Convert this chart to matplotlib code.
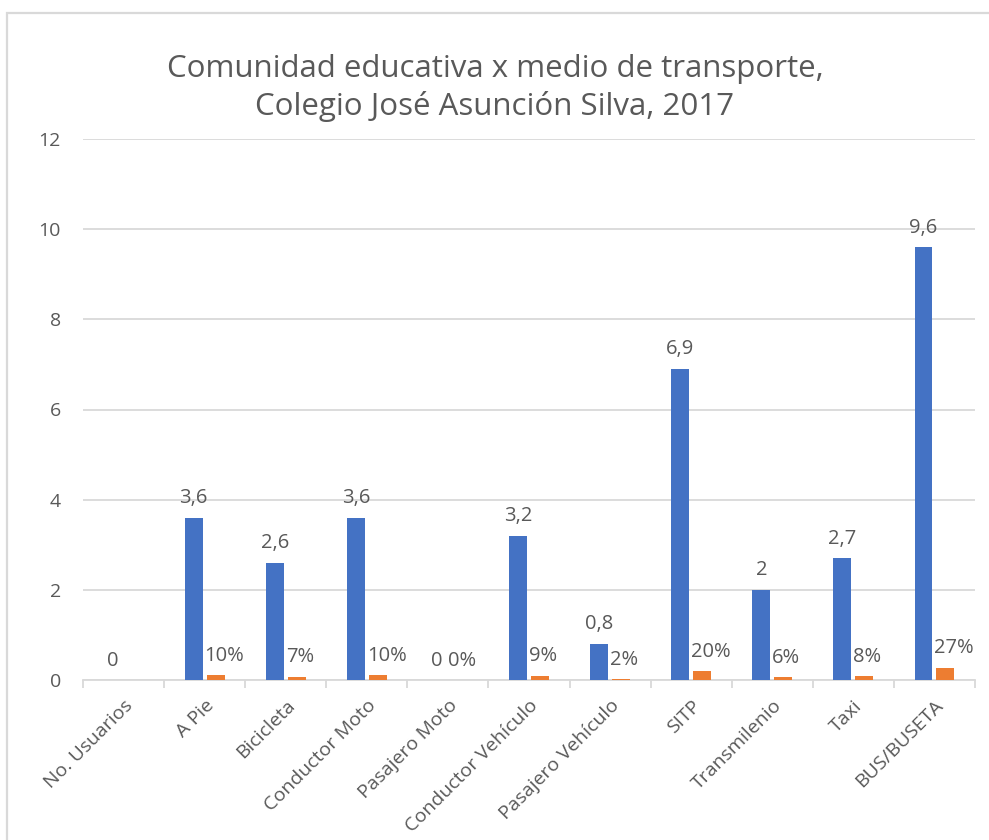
import matplotlib

matplotlib.use("agg")
import matplotlib.pyplot as plt  # noqa: E402
import numpy as np  # noqa: E402
from matplotlib.patches import Rectangle  # noqa: E402

plt.rcParams["font.family"] = ["Open Sans", "DejaVu Sans"]

# medios de transporte y valores
categorias = ["No. Usuarios", "A Pie", "Bicicleta", "Conductor Moto", "Pasajero Moto",
              "Conductor Vehículo", "Pasajero Vehículo", "SITP", "Transmilenio", "Taxi",
              "BUS/BUSETA"]
usuarios = [0, 3.6, 2.6, 3.6, 0, 3.2, 0.8, 6.9, 2, 2.7, 9.6]
porcentaje = [np.nan, 0.10, 0.07, 0.10, 0.0, 0.09, 0.02, 0.20, 0.06, 0.08, 0.27]

AZUL = "#4472C4"
NARANJA = "#ED7D31"
GRIS = "#595959"
REJILLA = "#D9D9D9"

W, H = 989, 840
fig = plt.figure(figsize=(W / 100, H / 100), dpi=100)
ax = fig.add_axes([83 / W, 1 - 680 / H, (975 - 83) / W, (680 - 139) / H])

# borde del área del gráfico
fig.patches.append(Rectangle((7 / W, -0.05), 1.1, 1 - 13 / H + 0.05, transform=fig.transFigure,
                             fill=False, edgecolor=REJILLA, lw=1.6))

x = np.arange(len(categorias))
bw, off = 0.22, 0.135
ax.bar(x - off, usuarios, bw, color=AZUL, zorder=3)
ax.bar(x + off, np.nan_to_num(porcentaje), bw, color=NARANJA, zorder=3)

for xi, v in zip(x, usuarios):
    txt = f"{v:g}".replace(".", ",")
    ax.annotate(txt, (xi - off, v), xytext=(0, 14), textcoords="offset points",
                ha="center", va="center", fontsize=14.5, color=GRIS)
for xi, p in zip(x, porcentaje):
    if np.isnan(p):
        continue
    ax.annotate(f"{p * 100:.0f}%", (xi + off - bw / 2, p), xytext=(-1.5, 14),
                textcoords="offset points", ha="left", va="center", fontsize=14.5, color=GRIS)

ax.set_xlim(-0.5, len(categorias) - 0.5)
ax.set_ylim(0, 12)
ax.set_yticks(range(0, 13, 2))
ax.yaxis.grid(True, color=REJILLA, lw=1.3, zorder=0)
ax.set_axisbelow(True)
for s in ["top", "right", "left"]:
    ax.spines[s].set_visible(False)
ax.spines["bottom"].set_color(REJILLA)
ax.spines["bottom"].set_linewidth(1.3)
ax.tick_params(axis="y", length=0, pad=16, labelsize=14, labelcolor=GRIS)

ax.set_xticks(x)
ax.set_xticklabels(categorias, rotation=45, ha="right", rotation_mode="anchor",
                   fontsize=14, color=GRIS)
ax.tick_params(axis="x", length=0, pad=12)
ax.set_xticks(np.arange(-0.5, len(categorias)), minor=True)
ax.tick_params(axis="x", which="minor", length=6, width=1.3, color=REJILLA)

fig.text(495 / W, 1 - 88 / H,
         "Comunidad educativa x medio de transporte,\nColegio José Asunción Silva, 2017",
         ha="center", va="center", fontsize=22.5, color=GRIS, linespacing=1.25)

fig.savefig("out.png", dpi=100)
